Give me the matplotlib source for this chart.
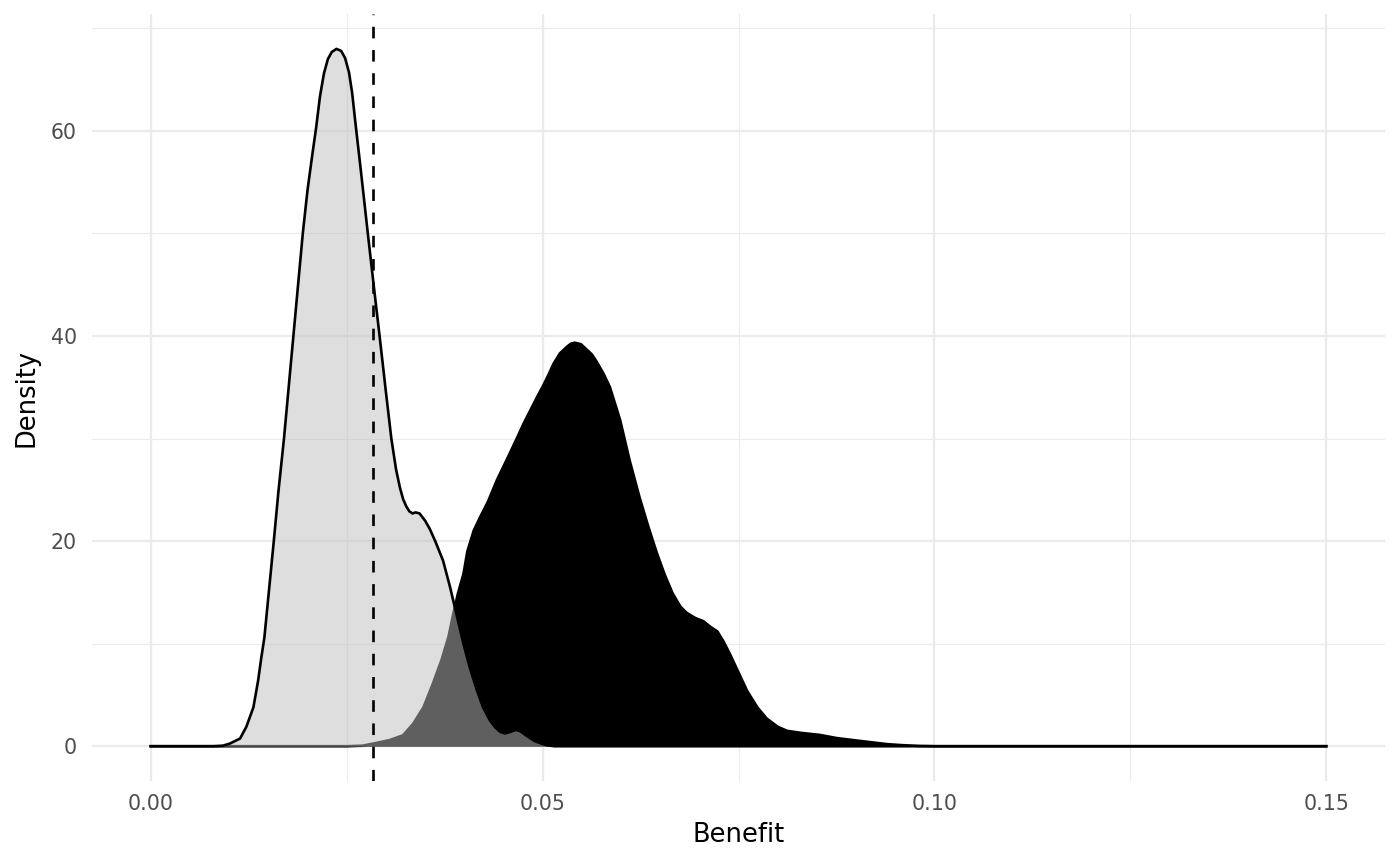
import numpy as np
import matplotlib.pyplot as plt
from matplotlib.ticker import MultipleLocator

# density values
gray_x = [0.0, 0.008, 0.0092, 0.0101, 0.0114, 0.0122, 0.0131, 0.0137, 0.0141, 0.0145,
          0.0151, 0.0157, 0.0163, 0.0170, 0.0176, 0.0182, 0.0188, 0.0194, 0.0200,
          0.0206, 0.0211, 0.0216, 0.0221, 0.0226, 0.0231, 0.0237, 0.0243, 0.0248,
          0.0253, 0.0257, 0.0261, 0.0268, 0.0277, 0.0285, 0.0292, 0.0300, 0.0307,
          0.0313, 0.0318, 0.0322, 0.0326, 0.0330, 0.0334, 0.0338, 0.0343, 0.0350,
          0.0356, 0.0363, 0.0373, 0.0382, 0.0390, 0.0399, 0.0407, 0.0416, 0.0424,
          0.0433, 0.0440, 0.0446, 0.0452, 0.0459, 0.0466, 0.0472, 0.0478, 0.0484,
          0.0490, 0.0497, 0.0505, 0.0515, 0.15]
gray_y = [0.0, 0.0, 0.05, 0.26, 0.75, 1.9, 3.8, 6.4, 8.6, 10.6,
          15.3, 20.0, 24.9, 30.0, 35.0, 40.0, 45.0, 50.0, 54.2,
          57.6, 60.3, 63.4, 65.6, 67.0, 67.7, 68.0, 67.8, 67.1,
          65.7, 63.7, 60.9, 56.2, 50.0, 44.6, 40.0, 34.6, 30.0,
          27.0, 25.2, 24.1, 23.4, 22.9, 22.7, 22.8, 22.7, 22.0,
          21.2, 20.0, 18.1, 15.5, 12.9, 10.0, 7.7, 5.5, 3.8,
          2.5, 1.8, 1.4, 1.25, 1.4, 1.6, 1.45, 1.1, 0.8,
          0.5, 0.3, 0.1, 0.0, 0.0]

black_x = [0.0, 0.025, 0.0270, 0.0284, 0.0305, 0.0322, 0.0335, 0.0348, 0.0360, 0.0371,
           0.0380, 0.0386, 0.0392, 0.0399, 0.0404, 0.0412, 0.0420, 0.0430, 0.0442,
           0.0454, 0.0467, 0.0476, 0.0486, 0.0494, 0.0501, 0.0508, 0.0514, 0.0522,
           0.0531, 0.0536, 0.0541, 0.0549, 0.0556, 0.0563, 0.0569, 0.0578, 0.0586,
           0.0599, 0.0611, 0.0624, 0.0635, 0.0646, 0.0656, 0.0666, 0.0676, 0.0684,
           0.0695, 0.0705, 0.0715, 0.0723, 0.0731, 0.0739, 0.0750, 0.0761, 0.0774,
           0.0786, 0.0800, 0.0812, 0.0830, 0.0854, 0.0875, 0.0896, 0.0918, 0.0940,
           0.0960, 0.0980, 0.1000, 0.15]
black_y = [0.0, 0.0, 0.05, 0.26, 0.6, 1.07, 2.2, 3.8, 6.1, 8.4,
           10.7, 12.9, 14.9, 16.8, 19.0, 21.0, 22.3, 23.8, 26.0,
           27.9, 30.0, 31.5, 33.0, 34.2, 35.2, 36.3, 37.3, 38.3,
           38.95, 39.25, 39.35, 39.2, 38.7, 38.2, 37.5, 36.3, 35.0,
           31.8, 27.9, 24.2, 21.4, 18.8, 16.7, 14.9, 13.6, 13.0,
           12.5, 12.2, 11.6, 11.2, 10.2, 9.0, 7.2, 5.4, 3.8,
           2.7, 1.9, 1.5, 1.3, 1.1, 0.8, 0.6, 0.4, 0.2,
           0.1, 0.03, 0.0, 0.0]

threshold = 0.02834
x_ticks = [0.00, 0.05, 0.10, 0.15]
x_labels = ['0.00', '0.05', '0.10', '0.15']
y_ticks = [0, 20, 40, 60]

fig = plt.figure(figsize=(14, 8.65), dpi=100)
ax = fig.add_axes([0.0657, 0.097, 0.9236, 0.8868])

ax.fill_between(black_x, black_y, 0, color='black', lw=0, zorder=2)
ax.plot(black_x, black_y, color='black', lw=1.9, zorder=3, solid_joinstyle='round')
ax.fill_between(gray_x, gray_y, 0, color='#BEBEBE', alpha=0.5, lw=0, zorder=4)
ax.plot(gray_x, gray_y, color='black', lw=1.9, zorder=5, solid_joinstyle='round')
ax.axvline(threshold, color='black', lw=1.9, dashes=(4.4, 4.4), zorder=6)

ax.set_xlim(-0.0075, 0.1575)
ax.set_ylim(-3.4, 71.4)
ax.set_xticks(x_ticks)
ax.set_xticklabels(x_labels)
ax.set_yticks(y_ticks)
ax.xaxis.set_minor_locator(MultipleLocator(0.025))
ax.yaxis.set_minor_locator(MultipleLocator(10))

ax.grid(which='major', color='#EBEBEB', lw=1.65, zorder=0)
ax.grid(which='minor', color='#EBEBEB', lw=0.85, zorder=0)
ax.set_axisbelow(True)
for s in ax.spines.values():
    s.set_visible(False)
ax.tick_params(which='both', length=0)
ax.tick_params(axis='x', pad=9, labelsize=14.8, labelcolor='#4D4D4D')
ax.tick_params(axis='y', pad=11, labelsize=14.8, labelcolor='#4D4D4D')

ax.set_xlabel('Benefit', fontsize=18.5, color='black', labelpad=6)
ax.set_ylabel('Density', fontsize=18.5, color='black', labelpad=8)

fig.savefig('out.png', dpi=100)
